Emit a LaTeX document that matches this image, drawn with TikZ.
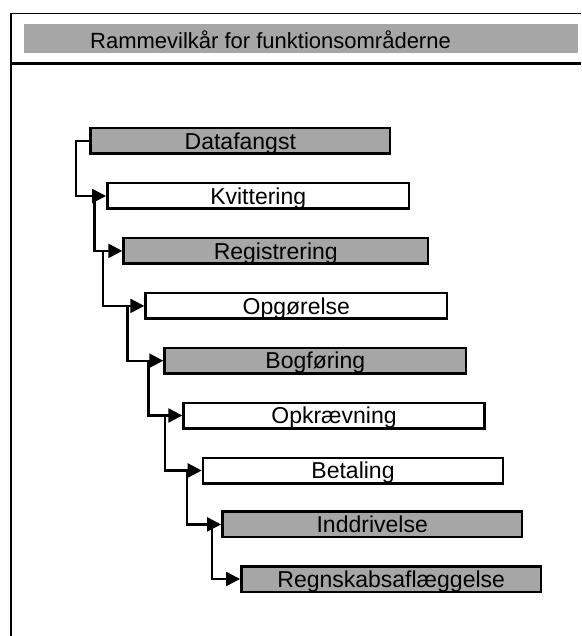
\documentclass[tikz,border=0pt]{standalone}
\usepackage{fontspec}
\setmainfont{Liberation Sans}
\usetikzlibrary{arrows.meta}
\definecolor{boxgray}{RGB}{166,166,166}
\tikzset{
  stage/.style={draw=black, line width=2.5pt, rectangle, inner sep=0pt,
    minimum height=25.5pt, text height=16.5pt, text depth=0pt,
    font=\fontsize{23}{23}\selectfont},
  grayst/.style={stage, fill=boxgray},
  whitest/.style={stage, fill=white},
  conn/.style={draw=black, line width=2.4pt, -{Triangle[length=14pt,width=14pt]}},
}
\begin{document}
\begin{tikzpicture}[x=1pt,y=-1pt]
\useasboundingbox (0,0) rectangle (581,636);
% frame
\draw[line width=1.3pt] (11,13.3) -- (581,13.3);
\draw[line width=2pt] (11,12.7) -- (11,636);
\fill[boxgray] (24,24) rectangle (578,53.5);
\node[font=\fontsize{22}{22}\selectfont, text height=15.8pt, text depth=0pt, inner sep=0pt] (title) at (270.5,40.5) {Rammevilkår for funktionsområderne};
\draw[line width=2.5pt] (10,63.7) -- (581,63.7);
% stages
\node[grayst, minimum width=299.5pt] (b1) at (240.3,141) {Datafangst};
\node[whitest, minimum width=301.8pt] (b2) at (258.2,196) {Kvittering};
\node[grayst, minimum width=304.5pt] (b3) at (275.8,250.9) {Registrering};
\node[whitest, minimum width=301.5pt] (b4) at (296.3,305.9) {Opgørelse};
\node[grayst, minimum width=301.5pt] (b5) at (315.3,360.7) {Bogføring};
\node[whitest, minimum width=300.9pt] (b6) at (334,415.5) {Opkrævning};
\node[whitest, minimum width=300.1pt] (b7) at (353,470.5) {Betaling};
\node[grayst, minimum width=299.8pt] (b8) at (372.2,524.4) {Inddrivelse};
\node[grayst, minimum width=299.8pt] (b9) at (391.2,579) {Regnskabsaflæggelse};
% connectors
\draw[conn] (b1.west) -- ++(-13.6,0) |- (b2.west);
\draw[conn] ([xshift=-11.7pt]b2.west) |- (b3.west);
\draw[conn] ([xshift=-19.6pt]b3.west) |- (b4.west);
\draw[conn] ([xshift=-17pt]b4.west) |- (b5.west);
\draw[conn] ([xshift=-15pt]b5.west) |- (b6.west);
\draw[conn] ([xshift=-17.3pt]b6.west) |- (b7.west);
\draw[conn] ([xshift=-14.7pt]b7.west) |- (b8.west);
\draw[conn] ([xshift=-9pt]b8.west) |- (b9.west);
\end{tikzpicture}
\end{document}
